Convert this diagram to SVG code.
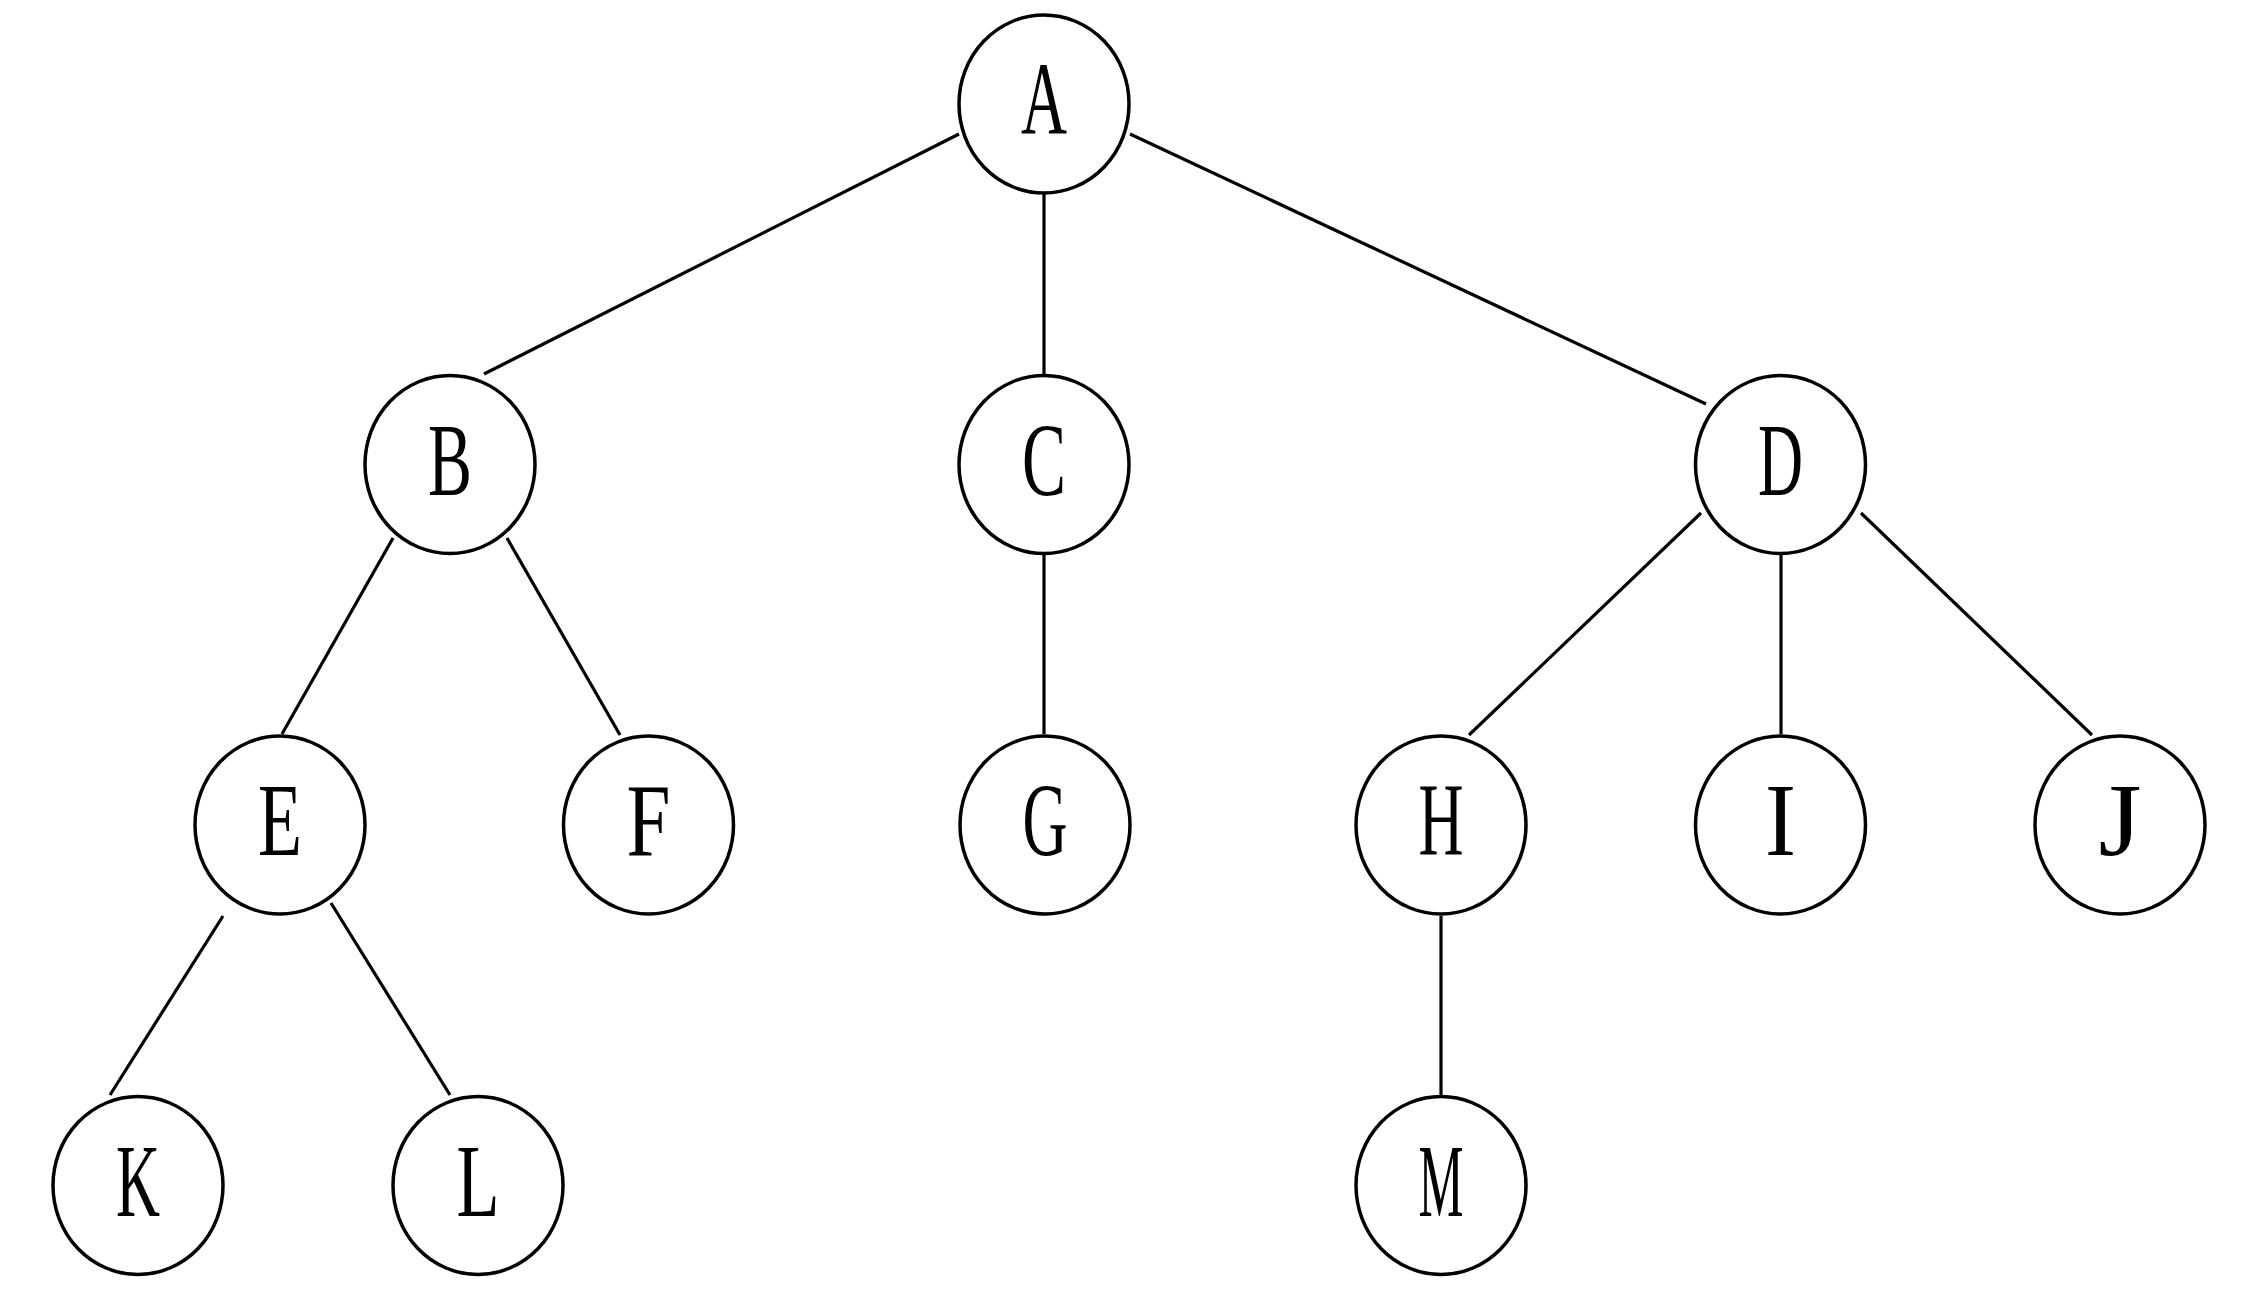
<svg xmlns="http://www.w3.org/2000/svg" width="2254" height="1298" viewBox="0 0 2254 1298">
<style>
.node ellipse{fill:#fff;stroke:#000;stroke-width:3.5}
.node text{font-family:"Liberation Serif","Times New Roman",serif;font-size:104px;fill:#000;text-anchor:middle}
.edges line{stroke:#000;stroke-width:3.2}
</style>
<rect width="2254" height="1298" fill="#fff"/>
<g class="edges" id="connectors">
<line x1="959" y1="134" x2="484" y2="374"/>
<line x1="1044" y1="194" x2="1044" y2="374"/>
<line x1="1130" y1="134" x2="1706" y2="404"/>
<line x1="393" y1="538" x2="282" y2="734"/>
<line x1="507" y1="538" x2="620" y2="735"/>
<line x1="1044" y1="555" x2="1044" y2="734"/>
<line x1="1701" y1="513" x2="1469" y2="735"/>
<line x1="1781" y1="555" x2="1781" y2="734"/>
<line x1="1861" y1="513" x2="2092" y2="735"/>
<line x1="223" y1="916" x2="110" y2="1095"/>
<line x1="331" y1="903" x2="450" y2="1095"/>
<line x1="1441" y1="916" x2="1441" y2="1095"/>
</g>
<g class="node" id="A"><ellipse cx="1044" cy="104" rx="85" ry="89"/><text x="1044" y="134" textLength="46" lengthAdjust="spacingAndGlyphs">A</text></g>
<g class="node" id="B"><ellipse cx="450" cy="464.5" rx="85" ry="89"/><text x="450" y="494.5" textLength="44" lengthAdjust="spacingAndGlyphs">B</text></g>
<g class="node" id="C"><ellipse cx="1044" cy="464.5" rx="85" ry="89"/><text x="1044" y="494.5" textLength="44" lengthAdjust="spacingAndGlyphs">C</text></g>
<g class="node" id="D"><ellipse cx="1780.5" cy="464.5" rx="85" ry="89"/><text x="1780.5" y="494.5" textLength="45" lengthAdjust="spacingAndGlyphs">D</text></g>
<g class="node" id="E"><ellipse cx="280" cy="825" rx="85" ry="89"/><text x="280" y="855" textLength="44" lengthAdjust="spacingAndGlyphs">E</text></g>
<g class="node" id="F"><ellipse cx="648.5" cy="825" rx="85" ry="89"/><text x="648.5" y="855" textLength="44" lengthAdjust="spacingAndGlyphs">F</text></g>
<g class="node" id="G"><ellipse cx="1045" cy="825" rx="85" ry="89"/><text x="1045" y="855" textLength="45" lengthAdjust="spacingAndGlyphs">G</text></g>
<g class="node" id="H"><ellipse cx="1441" cy="825" rx="85" ry="89"/><text x="1441" y="855" textLength="45" lengthAdjust="spacingAndGlyphs">H</text></g>
<g class="node" id="I"><ellipse cx="1780.5" cy="825" rx="85" ry="89"/><text x="1780.5" y="855" textLength="31" lengthAdjust="spacingAndGlyphs">I</text></g>
<g class="node" id="J"><ellipse cx="2120" cy="825" rx="85" ry="89"/><text x="2120" y="855" textLength="43" lengthAdjust="spacingAndGlyphs">J</text></g>
<g class="node" id="K"><ellipse cx="138" cy="1185.5" rx="85" ry="89"/><text x="138" y="1215.5" textLength="44" lengthAdjust="spacingAndGlyphs">K</text></g>
<g class="node" id="L"><ellipse cx="478" cy="1185.5" rx="85" ry="89"/><text x="478" y="1215.5" textLength="43" lengthAdjust="spacingAndGlyphs">L</text></g>
<g class="node" id="M"><ellipse cx="1441" cy="1185.5" rx="85" ry="89"/><text x="1441" y="1215.5" textLength="45" lengthAdjust="spacingAndGlyphs">M</text></g>
</svg>
